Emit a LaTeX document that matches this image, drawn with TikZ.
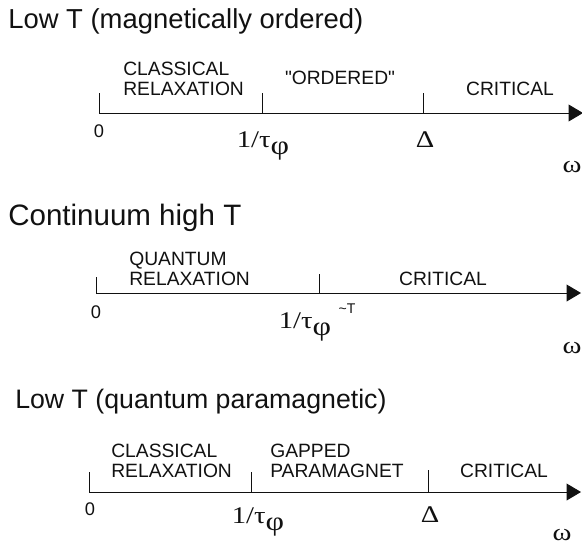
\documentclass[tikz,border=0pt]{standalone}
\usepackage{fontspec}
\setmainfont{Liberation Serif}
\newfontfamily\labfont{Liberation Sans}
\newfontfamily\valfont[FakeStretch=1.2]{Liberation Serif}
\usetikzlibrary{arrows.meta, positioning}
\definecolor{inkblack}{HTML}{111111}
\tikzstyle{title} = [anchor=base west, inner sep=0pt, text=inkblack, font=\labfont\fontsize{20}{24}\selectfont]
\tikzstyle{regime} = [inner sep=0pt, align=left, text=inkblack, font=\labfont\fontsize{13.7}{14.2}\selectfont]
\tikzstyle{num} = [inner sep=0pt, text=inkblack, font=\labfont\fontsize{13}{15}\selectfont]
\tikzstyle{val} = [anchor=base, inner sep=0pt, text=inkblack, font=\valfont\fontsize{17}{19}\selectfont]
\tikzstyle{axis} = [line width=0.7pt, color=inkblack, -{Triangle[length=3.6mm, width=4.2mm]}]
\tikzstyle{tick} = [line width=0.7pt, color=inkblack]
\newcommand{\invtau}{1/τ\lower5pt\hbox{\fontsize{19}{20}\selectfont φ}}

\begin{document}
\begin{tikzpicture}[x=0.025cm, y=-0.025cm]
    \useasboundingbox (0,0) rectangle (582,546);

    % low T, ordered side
    \node[title, font=\labfont\fontsize{19.5}{24}\selectfont] (t1) at (8,28) {Low T (magnetically ordered)};
    \coordinate (a1) at (99,113);
    \coordinate (e1) at (583,113);
    \draw[axis] (a1) -- (e1);
    \foreach \x in {99,262,423}
        \draw[tick] (\x,113) -- (\x,93);
    \node[regime, anchor=west] (r11) at (123,79) {CLASSICAL\\RELAXATION};
    \node[regime] (r12) at (340,77.5) {"ORDERED"};
    \node[regime] (r13) at (510,89) {CRITICAL};
    \node[num] (z1) at (99,131.5) {0};
    \node[val] (tau1) at (263,147) {\invtau};
    \node[val] (d1) at (425,147) {Δ};
    \node[val] (w1) at (572,172) {ω};

    % continuum
    \node[title, font=\labfont\fontsize{21}{24}\selectfont] (t2) at (8,225) {Continuum high T};
    \coordinate (a2) at (96,293);
    \coordinate (e2) at (581,293);
    \draw[axis] (a2) -- (e2);
    \foreach \x/\y in {96/277,319/274}
        \draw[tick] (\x,293) -- (\x,\y);
    \node[regime, anchor=west] (r21) at (129,269) {QUANTUM\\RELAXATION};
    \node[regime] (r22) at (443,278.5) {CRITICAL};
    \node[num] (z2) at (96,312.5) {0};
    \node[val] (tau2) at (305,328) {\invtau};
    \node[num, font=\labfont\fontsize{10}{12}\selectfont] (tt2) at (347,309) {\textasciitilde T};
    \node[val] (w2) at (572,353) {ω};

    % low T, paramagnet side
    \node[title, font=\labfont\fontsize{19}{24}\selectfont] (t3) at (15,408) {Low T (quantum paramagnetic)};
    \coordinate (a3) at (89,492);
    \coordinate (e3) at (581,492);
    \draw[axis] (a3) -- (e3);
    \foreach \x/\y in {89/472,251/472,428/470}
        \draw[tick] (\x,492) -- (\x,\y);
    \node[regime, anchor=west] (r31) at (111,460.5) {CLASSICAL\\RELAXATION};
    \node[regime, anchor=west] (r32) at (270,460.5) {GAPPED\\PARAMAGNET};
    \node[regime] (r33) at (504,470.5) {CRITICAL};
    \node[num] (z3) at (90,509) {0};
    \node[val] (tau3) at (258,523) {\invtau};
    \node[val] (d3) at (430,522) {Δ};
    \node[val] (w3) at (562,540) {ω};
\end{tikzpicture}
\end{document}
